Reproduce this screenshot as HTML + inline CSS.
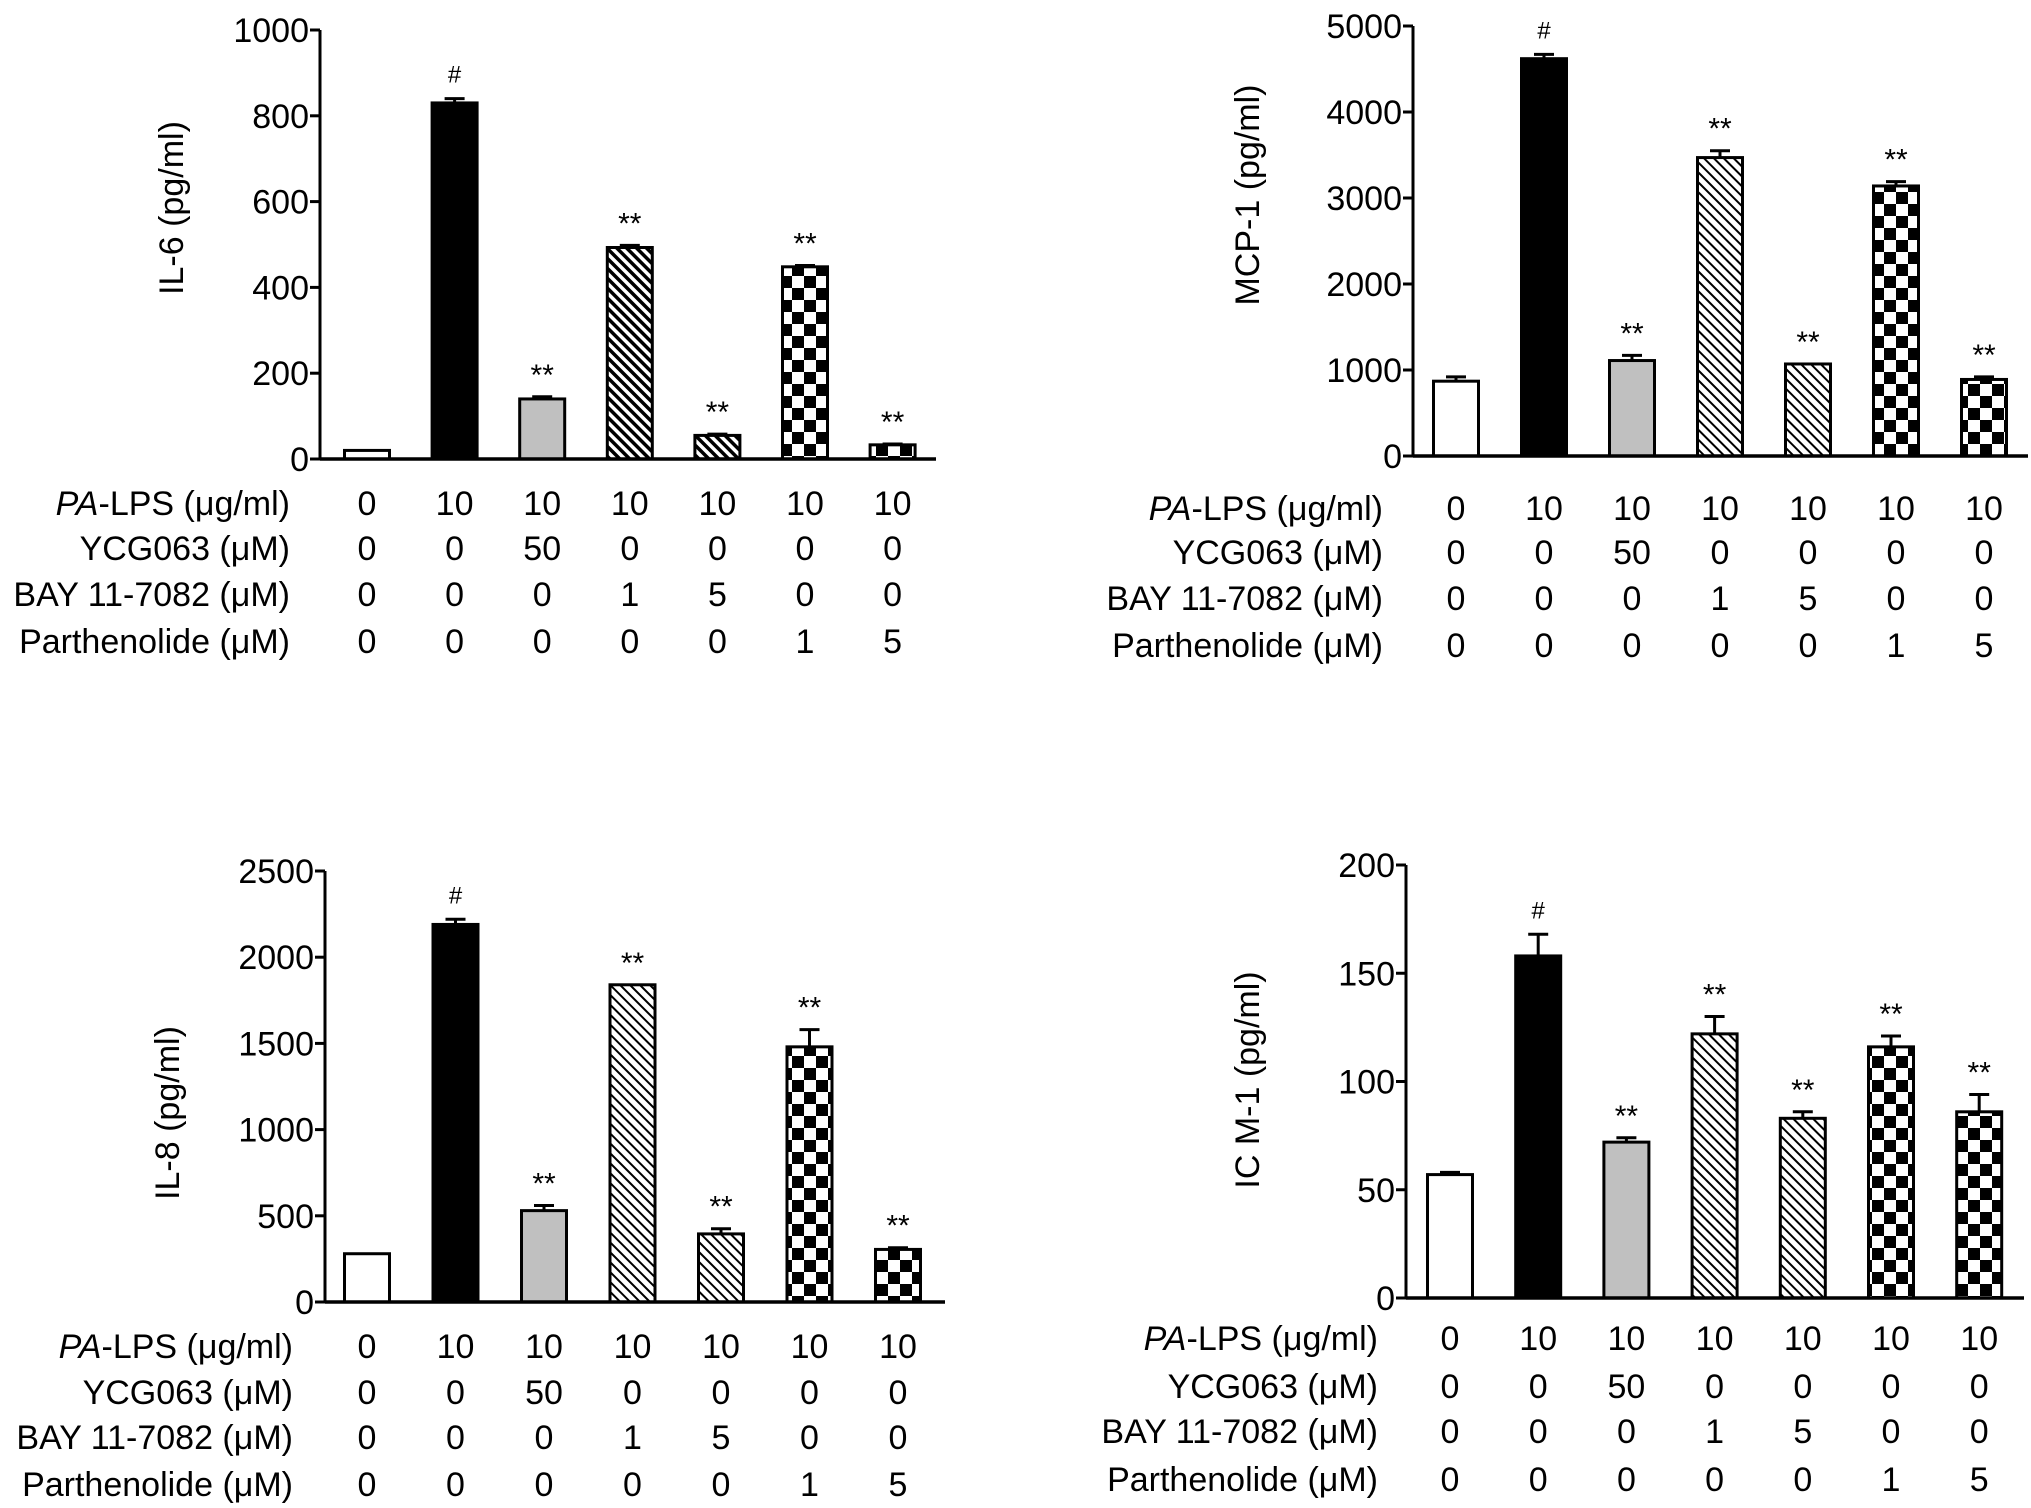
<!DOCTYPE html>
<html><head><meta charset="utf-8"><style>
body{margin:0;background:#fff}
svg{display:block}
text{font-family:"Liberation Sans",Arial,sans-serif;fill:#000}
</style></head><body>
<svg id="fig" width="2031" height="1508" viewBox="0 0 2031 1508" xmlns="http://www.w3.org/2000/svg">
<defs>
<pattern id="diagDense" patternUnits="userSpaceOnUse" width="7" height="7" patternTransform="rotate(-45)"><rect width="7" height="7" fill="#fff"/><rect width="3.5" height="7" fill="#000"/></pattern>
<pattern id="diagLight" patternUnits="userSpaceOnUse" width="7" height="7" patternTransform="rotate(-45)"><rect width="7" height="7" fill="#fff"/><rect width="2" height="7" fill="#000"/></pattern>
<pattern id="checker" patternUnits="userSpaceOnUse" width="24" height="24"><rect width="24" height="24" fill="#fff"/><rect width="12" height="12" fill="#000"/><rect x="12" y="12" width="12" height="12" fill="#000"/></pattern>
</defs>
</svg>
<script>
const categories = ["ctrl","LPS","LPS+YCG063","LPS+BAY1","LPS+BAY5","LPS+Parth1","LPS+Parth5"];
const il6Values = [20,830,140,493,55,448,33];
const il6Errors = [0,10,5,5,3,3,2];
const mcpValues = [870,4620,1110,3470,1070,3140,890];
const mcpErrors = [50,50,60,80,0,50,30];
const il8Values = [280,2190,530,1840,395,1480,305];
const il8Errors = [0,30,30,0,30,100,10];
const icamValues = [57,158,72,122,83,116,86];
const icamErrors = [1,10,2,8,3,5,8];
const il6Ticks = [0,200,400,600,800,1000];
const mcpTicks = [0,1000,2000,3000,4000,5000];
const il8Ticks = [0,500,1000,1500,2000,2500];
const icamTicks = [0,50,100,150,200];
const annotations = ["","#","**","**","**","**","**"];
const rowLabels = ["PA-LPS (\u03bcg/ml)","YCG063 (\u03bcM)","BAY 11-7082 (\u03bcM)","Parthenolide (\u03bcM)"];
const rowLPS = ["0","10","10","10","10","10","10"];
const rowYCG = ["0","0","50","0","0","0","0"];
const rowBAY = ["0","0","0","1","5","0","0"];
const rowParth = ["0","0","0","0","0","1","5"];

const NS="http://www.w3.org/2000/svg";
const svg=document.getElementById('fig');
function mk(tag,attrs,parent){const e=document.createElementNS(NS,tag);for(const k in attrs)e.setAttribute(k,attrs[k]);(parent||svg).appendChild(e);return e;}

const panels=[
 {id:'il6',title:'IL-6 (pg/ml)',vals:il6Values,errs:il6Errors,ticks:il6Ticks,ax:320,top:30,zero:459,axEnd:936,x0:367,dx:87.6,tx:171,ty:208,lblX:290,rows:[503,548,594,641],mcp:false},
 {id:'mcp1',title:'MCP-1 (pg/ml)',vals:mcpValues,errs:mcpErrors,ticks:mcpTicks,ax:1413,top:26,zero:456,axEnd:2028,x0:1456,dx:88,tx:1247,ty:195,lblX:1383,rows:[508,552,598,645],mcp:true},
 {id:'il8',title:'IL-8 (pg/ml)',vals:il8Values,errs:il8Errors,ticks:il8Ticks,ax:325,top:871,zero:1302,axEnd:945,x0:367,dx:88.5,tx:167,ty:1113,lblX:293,rows:[1346,1392,1437,1484],mcp:true},
 {id:'icam1',title:'IC  M-1 (pg/ml)',vals:icamValues,errs:icamErrors,ticks:icamTicks,ax:1406,top:865,zero:1298,axEnd:2024,x0:1450,dx:88.2,tx:1247,ty:1080,lblX:1378,rows:[1338,1386,1431,1479],mcp:true}
];
const rowsData=[rowLPS,rowYCG,rowBAY,rowParth];
const FS=34;

panels.forEach(p=>{
 const g=mk('g',{});
 
 
 const max=p.ticks[p.ticks.length-1];
 const y=v=>p.zero-(v/max)*(p.zero-p.top);
 const xc=i=>p.x0+i*p.dx;
 const bw=45;
 p.vals.forEach((v,i)=>{
  let fill='#fff';
  if(i===1)fill='#000';else if(i===2)fill='#c0c0c0';
  else if(i===3||i===4)fill=p.mcp?'url(#diagLight)':'url(#diagDense)';
  else if(i>=5)fill='url(#checker)';
  const top=y(v+p.errs[i]);
  if(p.errs[i]>0){
   const el=mk('line',{x1:xc(i),x2:xc(i),y1:y(v),y2:top,stroke:'#000','stroke-width':3},g);
   
   
   const c=mk('line',{x1:xc(i)-10,x2:xc(i)+10,y1:top,y2:top,stroke:'#000','stroke-width':3},g);
   
   
  }
  const r=mk('rect',{x:xc(i)-bw/2,y:y(v),width:bw,height:p.zero-y(v),fill:fill,stroke:'#000','stroke-width':3},g);
  
  
  if(annotations[i]){
   const isHash=annotations[i]==='#';
   const t=mk('text',{x:xc(i),y:top-(isHash?16:12),'text-anchor':'middle','font-size':isHash?24:30},g);
   t.textContent=annotations[i];
   
   
  }
 });
 const ya=mk('line',{x1:p.ax,x2:p.ax,y1:p.top,y2:p.zero,stroke:'#000','stroke-width':3},g);
 
 
 const xa=mk('line',{x1:p.ax,x2:p.axEnd,y1:p.zero,y2:p.zero,stroke:'#000','stroke-width':3.5},g);
 
 
 p.ticks.forEach(t=>{
  const l=mk('line',{x1:p.ax-10,x2:p.ax,y1:y(t),y2:y(t),stroke:'#000','stroke-width':3},g);
  
  
  const tx=mk('text',{x:p.ax-11,y:y(t)+12,'text-anchor':'end','font-size':FS},g);
  tx.textContent=t;
  
  
 });
 const tt=mk('text',{x:p.tx,y:p.ty,'text-anchor':'middle','font-size':FS,transform:'rotate(-90 '+p.tx+' '+p.ty+')',dy:12},g);
 tt.textContent=p.title;
 
 
 rowLabels.forEach((lab,r)=>{
  const ry=p.rows[r]+12;
  const t=mk('text',{x:p.lblX,y:ry,'text-anchor':'end','font-size':FS},g);
  if(r===0){const it=mk('tspan',{'font-style':'italic'},t);it.textContent='PA';const rest=mk('tspan',{},t);rest.textContent='-LPS (\u03bcg/ml)';}
  else t.textContent=lab;
  
  
  rowsData[r].forEach((v,i)=>{
   const c=mk('text',{x:xc(i),y:ry,'text-anchor':'middle','font-size':FS},g);
   c.textContent=v;
   
   
  });
 });
});
</script>
</body></html>
